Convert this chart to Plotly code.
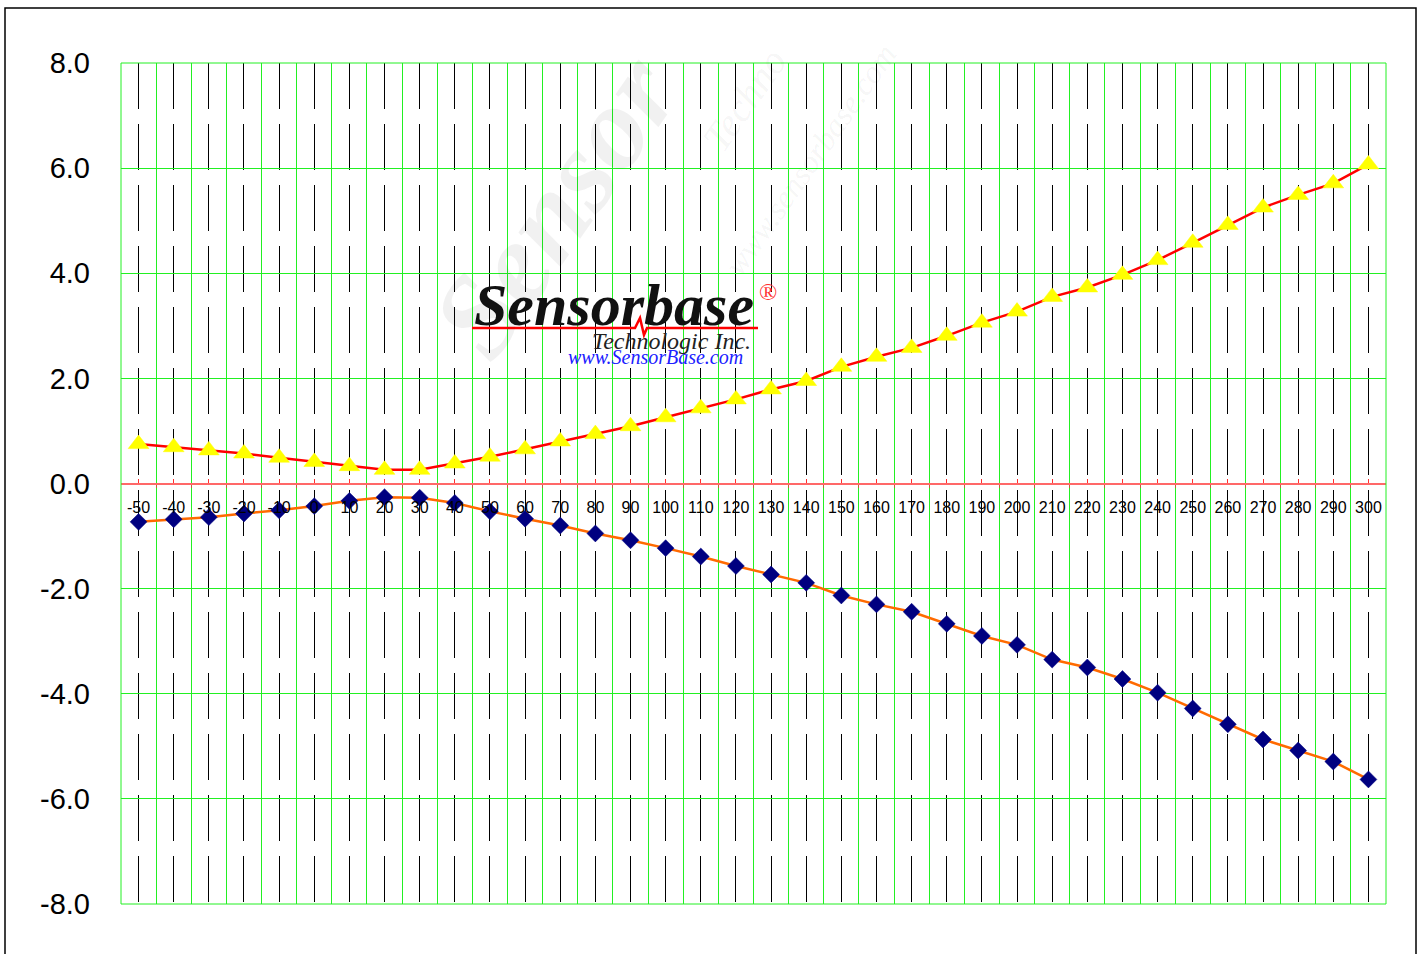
import plotly.graph_objects as go

# ---------------- data ----------------
categories = [-50, -40, -30, -20, -10, 0, 10, 20, 30, 40, 50, 60, 70, 80, 90, 100,
              110, 120, 130, 140, 150, 160, 170, 180, 190, 200, 210, 220, 230, 240,
              250, 260, 270, 280, 290, 300]
upper_values = [0.75, 0.69, 0.63, 0.57, 0.49, 0.41, 0.33, 0.26, 0.26, 0.38, 0.51, 0.65,
                0.80, 0.94, 1.09, 1.26, 1.43, 1.60, 1.79, 1.95, 2.22, 2.41, 2.58, 2.81,
                3.06, 3.27, 3.55, 3.73, 3.97, 4.25, 4.58, 4.92, 5.25, 5.49, 5.71, 6.07]
lower_values = [-0.73, -0.68, -0.64, -0.57, -0.51, -0.43, -0.33, -0.26, -0.27, -0.37, -0.53, -0.67,
                -0.80, -0.95, -1.08, -1.23, -1.39, -1.57, -1.73, -1.89, -2.13, -2.30, -2.44, -2.67,
                -2.90, -3.07, -3.35, -3.50, -3.72, -3.98, -4.28, -4.58, -4.87, -5.08, -5.29, -5.63]
y_ticks = [-8, -6, -4, -2, 0, 2, 4, 6, 8]
x_labels = [str(c) for c in categories]

W, H = 1421, 954
PL, PR, PT, PB = 121, 1386, 63, 904


def px(xp):
    return (xp - PL) / (PR - PL)


def py(yp):
    return (PB - yp) / (PB - PT)


idx = list(range(len(categories)))

fig = go.Figure()
fig.add_trace(go.Scatter(
    x=idx, y=upper_values, mode="lines+markers",
    line=dict(color="#ff0000", width=2.5),
    marker=dict(symbol="triangle-up", size=18, color="#ffff00",
                line=dict(color="#ffff00", width=0.5)),
    showlegend=False, cliponaxis=False))
fig.add_trace(go.Scatter(
    x=idx, y=lower_values, mode="lines+markers",
    line=dict(color="#ff6a00", width=2.5),
    marker=dict(symbol="diamond", size=13, color="#000080",
                line=dict(color="#000080", width=0.5)),
    showlegend=False, cliponaxis=False))

boundaries = [i - 0.5 for i in range(len(categories) + 1)]

fig.update_layout(
    width=W, height=H,
    margin=dict(l=PL, r=W - PR, t=PT, b=H - PB, pad=0),
    paper_bgcolor="white", plot_bgcolor="white",
    font=dict(family="Liberation Sans, Arial, sans-serif", color="black"),
    xaxis=dict(
        range=[-0.5, len(categories) - 0.5],
        tickmode="array", tickvals=idx, ticktext=x_labels,
        anchor="free", position=0.5,
        showline=True, linecolor="#ff6868", linewidth=2,
        ticks="inside", ticklen=4, tickwidth=1, tickcolor="#ff3030",
        tickfont=dict(size=16, color="black"),
        ticklabelstandoff=9,
        showgrid=True, gridcolor="#000000", gridwidth=1, griddash="46px,15px",
        zeroline=False,
        minor=dict(tickmode="array", tickvals=boundaries, showgrid=True,
                   gridcolor="#22f022", gridwidth=1, griddash="solid",
                   ticks="outside", ticklen=3, tickcolor="#c0603a"),
        fixedrange=True,
    ),
    yaxis=dict(
        range=[-8, 8], domain=[0, 1],
        tickmode="array", tickvals=y_ticks,
        ticktext=[f"{v:.1f}" for v in y_ticks],
        tickfont=dict(size=29, color="black"),
        ticks="", ticklabelstandoff=30,
        showgrid=True, gridcolor="#22f022", gridwidth=1,
        zeroline=False, showline=False,
        fixedrange=True,
    ),
)

# plot-area green border
fig.add_shape(type="rect", xref="paper", yref="paper", x0=0, x1=1, y0=0, y1=1,
              line=dict(color="#22f022", width=1), fillcolor="rgba(0,0,0,0)",
              layer="above")

# outer frame
fig.add_shape(type="rect", xref="paper", yref="paper",
              x0=px(5), x1=px(1416), y0=py(980), y1=py(8),
              line=dict(color="black", width=1.5), fillcolor="rgba(0,0,0,0)",
              layer="above")


def note(xp, yp, text, size, color, family="Liberation Serif", angle=0):
    fig.add_annotation(xref="paper", yref="paper", x=px(xp), y=py(yp),
                       xanchor="center", yanchor="middle",
                       text=text, showarrow=False, textangle=angle,
                       font=dict(family=family, size=size, color=color))


# watermark (faint)
note(555, 205, "<b><i>Sensor</i></b>", 118, "rgba(0,0,0,0.055)", angle=-55)
note(745, 100, "<i>Techno</i>", 40, "rgba(0,0,0,0.055)", angle=-55)
note(810, 160, "<i>www.sensorbase.com</i>", 32, "rgba(0,0,0,0.055)", angle=-55)

# logo box
cw = (PR - PL) / len(categories)
fig.add_shape(type="rect", xref="x", yref="y",
              x0=(470 - PL) / cw - 0.5, x1=(787 - PL) / cw - 0.5,
              y0=2.03, y1=4.05, line=dict(width=0), fillcolor="white", layer="below")

note(614, 305, "<b><i>Sensorbase</i></b>", 60, "#111111")
note(768, 292, "®", 24, "#ff3030")
note(671, 341, "<i>Technologic Inc.</i>", 24, "#222222")
note(655, 357, "<i>www.SensorBase.com</i>", 20, "#2020ff")

pts = [(472, 328), (635, 328), (640, 318), (644, 335), (647, 328), (758, 328)]
path = "M " + " L ".join(f"{px(a):.5f},{py(b):.5f}" for a, b in pts)
fig.add_shape(type="path", xref="paper", yref="paper", path=path,
              line=dict(color="#ff0000", width=2.5), layer="above")

fig.write_html("out.html", config={"displayModeBar": False},
               post_script="document.body.style.margin='0';")
